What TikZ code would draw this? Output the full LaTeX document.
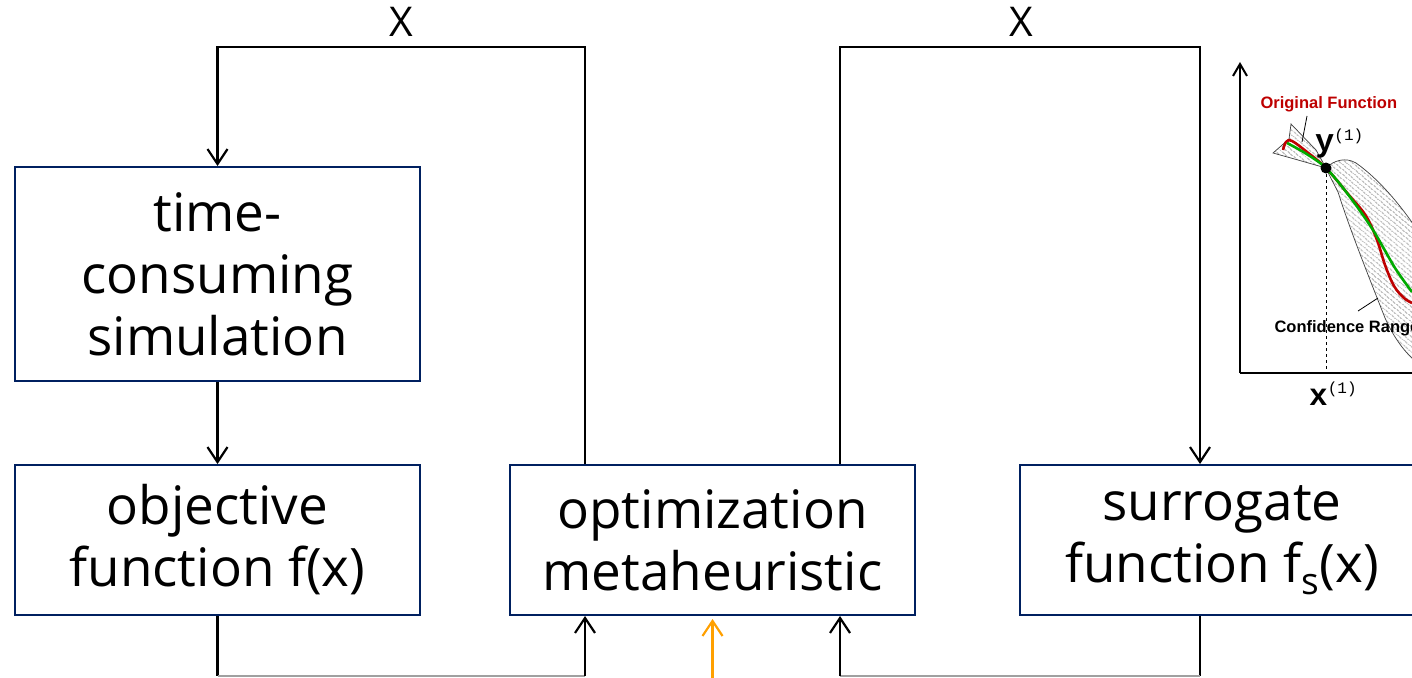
\documentclass[tikz,border=0pt]{standalone}
\usepackage{fontspec}
\setmainfont{Open Sans}
\newfontfamily\plotsans{Liberation Sans}
\newfontfamily\plotmono{Liberation Mono}
\usetikzlibrary{arrows.meta,patterns.meta}

\definecolor{boxnavy}{RGB}{0,32,96}
\definecolor{feedorange}{RGB}{255,160,0}
\definecolor{curvered}{RGB}{190,0,0}
\definecolor{curvegreen}{RGB}{0,170,0}
\definecolor{returngray}{RGB}{160,160,160}

\begin{document}
\begin{tikzpicture}[x=1pt,y=-1pt,
  box/.style={draw=boxnavy,line width=2pt,fill=white,minimum width=405pt,
    inner sep=0pt,align=center,font=\fontsize{53}{62}\selectfont},
  flow/.style={line width=2.2pt,-{Straight Barb[length=15pt,width=20pt,line width=2.2pt]}},
  wire/.style={line width=2.2pt},
  back/.style={line width=1.5pt,draw=returngray},
  xlabel/.style={font=\fontsize{41}{41}\selectfont},
  hatch/.style={draw=black!75,line width=0.7pt,
    pattern={Lines[angle=-40,distance=4pt,line width=0.6pt]},pattern color=black!65}]

\clip (0,0) rectangle (1412,677);
\fill[white] (0,0) rectangle (1412,677);

% process boxes
\node[box,minimum height=214pt] (sim) at (217.5,274) {time-\\consuming\\simulation};
\node[box,minimum height=150pt] (obj) at (217.5,540) {objective\\function f(x)};
\node[box,minimum height=150pt] (opt) at (712.5,540) {optimization\\metaheuristic};
\node[box,minimum height=150pt] (sur) at (1222,540) {surrogate\\function f\textsubscript{s}(x)};

% loop levels
\coordinate (ya) at (0,47);
\coordinate (bot) at (0,676);

\node[xlabel] (x1) at (401,22) {X};
\node[xlabel] (x2) at (1021,22) {X};

% candidate solutions sent out
\draw[flow] ([xshift=-127.5pt]opt.north) |- (sim.north |- ya) -- (sim.north);
\draw[flow] ([xshift=127.5pt]opt.north) |- ([xshift=-22pt]sur.north |- ya) -- ([xshift=-22pt]sur.north);
\draw[flow] (sim.south) -- (obj.north);

% evaluations returned
\draw[wire] (obj.south) -- (obj.south |- bot);
\draw[back] (obj.south |- bot) -- ([xshift=-127.5pt]opt.south |- bot);
\draw[flow] ([xshift=-127.5pt]opt.south |- bot) -- ([xshift=-127.5pt]opt.south);
\draw[wire] ([xshift=-22pt]sur.south) -- ([xshift=-22pt]sur.south |- bot);
\draw[back] ([xshift=-22pt]sur.south |- bot) -- ([xshift=127.5pt]opt.south |- bot);
\draw[flow] ([xshift=127.5pt]opt.south |- bot) -- ([xshift=127.5pt]opt.south);
\draw[flow,draw=feedorange] (opt.south |- 0,680) -- ([yshift=-3pt]opt.south);

% surrogate illustration
\draw[hatch] (1326,168) -- (1316,150) -- (1291,124) -- (1289,139) -- (1273,153) -- (1298,160) -- cycle;
\draw[hatch] (1326,168) .. controls (1334,160) and (1346,157) .. (1356,163)
  .. controls (1380,180) and (1400,205) .. (1416,228) -- (1416,362)
  .. controls (1405,352) and (1395,340) .. (1385,318)
  .. controls (1370,280) and (1350,230) .. (1338,192)
  .. controls (1333,182) and (1329,175) .. cycle;
\draw[line width=0.8pt] (1307,116) -- (1302,142);
\draw[line width=0.8pt] (1358,311) -- (1378,298);

\draw[curvered,line width=2.6pt] plot[smooth,tension=0.6] coordinates
  {(1283,150) (1286,142) (1292,141) (1307,152) (1326,168) (1348,194) (1366,216) (1377,240) (1385,265) (1394,286) (1404,298) (1412,303)};
\draw[curvegreen,line width=2.6pt] plot[smooth] coordinates
  {(1287,143) (1305,153) (1326,168) (1350,197) (1373,230) (1395,268) (1412,292)};

\draw[dashed,line width=0.8pt] (1326,168) -- (1326,373);
\fill (1326,168) circle (5.5pt);

\draw[line width=2pt] (1240,373) -- (1412,373);
\draw[line width=2pt,-{Straight Barb[length=12pt,width=14pt,line width=2pt]}] (1240,373) -- (1240,62);

\node[anchor=west,text=curvered,font=\plotsans\bfseries\fontsize{16.5}{16.5}\selectfont] (orig) at (1257,104) {Original Function};
\node[anchor=west,font=\plotsans\bfseries\fontsize{16.5}{16.5}\selectfont] (conf) at (1271,328) {Confidence Range};
\node[anchor=base west,inner sep=0pt,font=\plotmono\bfseries] (ylab) at (1315,151)
  {\fontsize{32}{32}\selectfont y\raisebox{11pt}{\mdseries\fontsize{16}{16}\selectfont(1)}};
\node[anchor=base west,inner sep=0pt,font=\plotmono\bfseries] (xlab) at (1309,405)
  {\fontsize{31}{31}\selectfont x\raisebox{12pt}{\mdseries\fontsize{16}{16}\selectfont(1)}};
\end{tikzpicture}
\end{document}
